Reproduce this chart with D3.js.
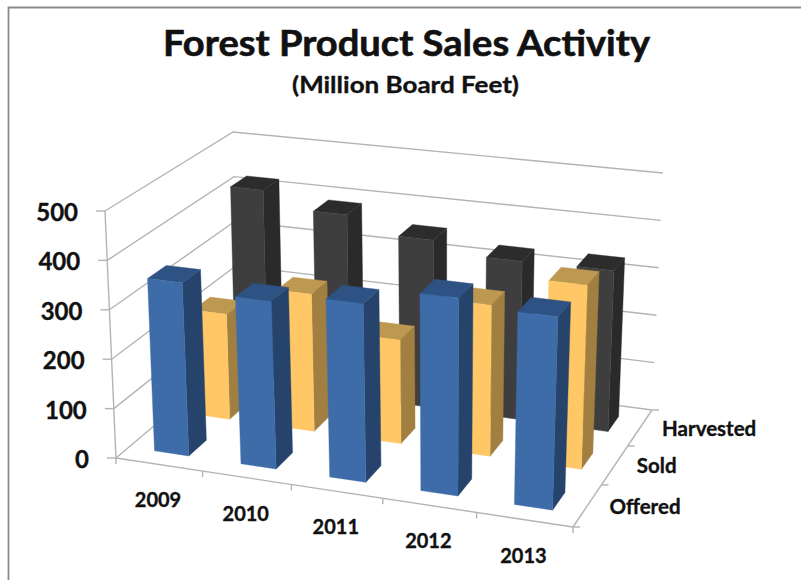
<!DOCTYPE html>
<html>
<head>
<meta charset="utf-8">
<script src="https://cdnjs.cloudflare.com/ajax/libs/d3/7.8.5/d3.min.js"></script>
<style>
html,body{margin:0;padding:0;background:#fff}
svg{display:block}
text{font-family:Lato,"Open Sans",sans-serif;font-weight:700;fill:#111;stroke:#111;stroke-width:0.35px}
</style>
</head>
<body>
<svg id="chart" width="801" height="580"></svg>
<script>
// Forest product sales by year, million board feet
const years = ["2009", "2010", "2011", "2012", "2013"];
const rows = ["Offered", "Sold", "Harvested"];
const offered = [351, 336, 354, 388, 375];
const sold = [220, 284, 212, 306, 369];
const harvested = [423, 389, 355, 331, 333];
const valueTicks = [0, 100, 200, 300, 400, 500];

const seriesByRow = {Offered: offered, Sold: sold, Harvested: harvested};
const faceColors = {
  Offered: {front: "#3d6ca8", side: "#26436c", top: "#2d5283"},
  Sold: {front: "#ffc766", side: "#a07f40", top: "#bd9850"},
  Harvested: {front: "#3e3e3e", side: "#2a2a2a", top: "#2c2c2c"}
};

const svg = d3.select("#chart");

// Unit-space scales: x along the years, d into the chart, z up the value axis
const xBand = d3.scaleBand().domain(years).range([0, 1]).paddingInner(0.6).paddingOuter(0.3);
const dBand = d3.scaleBand().domain(rows).range([0, 1]).paddingInner(0.58).paddingOuter(0.29);
const zScale = d3.scaleLinear().domain([0, 500]).range([0, 1]);

// Screen corners of the plot box: floor and ceiling, front-left going round
const floorQuad = [[116, 458], [573, 527], [652, 410], [238, 355]];
const ceilQuad = [[105, 211], [582, 266], [663, 173], [233, 132]];

// Square-to-quad homography
function homography(q) {
  const [[x0, y0], [x1, y1], [x2, y2], [x3, y3]] = q;
  const dx1 = x1 - x2, dx2 = x3 - x2, sx = x0 - x1 + x2 - x3;
  const dy1 = y1 - y2, dy2 = y3 - y2, sy = y0 - y1 + y2 - y3;
  const den = dx1 * dy2 - dx2 * dy1;
  const g = (sx * dy2 - dx2 * sy) / den;
  const h = (dx1 * sy - sx * dy1) / den;
  const a = x1 - x0 + g * x1, b = x3 - x0 + h * x3;
  const d = y1 - y0 + g * y1, e = y3 - y0 + h * y3;
  return (u, v) => {
    const w = g * u + h * v + 1;
    return [(a * u + b * v + x0) / w, (d * u + e * v + y0) / w];
  };
}
const onFloor = homography(floorQuad);
const onCeil = homography(ceilQuad);

// Project unit-space (x, d, z) to the screen
function project(x, d, z) {
  const f = onFloor(x, d), c = onCeil(x, d);
  return [f[0] + (c[0] - f[0]) * z, f[1] + (c[1] - f[1]) * z];
}

const line = d3.line();
const gridColor = "#b4b4b4";
const grid = svg.append("g").attr("fill", "none").attr("stroke", gridColor).attr("stroke-width", 1.4);
const seg = (a, b) => grid.append("path").attr("d", line([a, b]));

// Frame round the chart area
svg.append("path")
  .attr("d", "M8.5,580V7.5H801")
  .attr("fill", "none").attr("stroke", "#8a8a8a").attr("stroke-width", 1.8);

// Walls: a value gridline along the left and the back
valueTicks.forEach(v => {
  const z = zScale(v);
  const a = project(0, 0, z), b = project(0, 1, z), c = project(1, 1, z);
  grid.append("path").attr("d", line([a, b, c]));
  seg([a[0] - 9, a[1]], a);
});

// Value axis, front floor edge and right floor edge
seg(project(0, 0, 0), project(0, 0, 1));
seg(project(0, 0, 0), project(1, 0, 0));
seg(project(1, 0, 0), project(1, 1, 0));

// Year ticks and labels along the front edge
d3.range(years.length + 1).forEach(i => {
  const p = project(i / years.length, 0, 0);
  seg(p, [p[0], p[1] + 6]);
});
years.forEach(y => {
  const p = project(xBand(y) + xBand.bandwidth() / 2, 0, 0);
  svg.append("text").attr("x", p[0] - 1).attr("y", p[1] + 43)
    .attr("text-anchor", "middle").attr("font-size", 20).text(y);
});

// Row ticks and labels along the right edge
d3.range(rows.length + 1).forEach(i => {
  const p = project(1, i / rows.length, 0);
  seg(p, [p[0] + 7, p[1]]);
});
rows.forEach(r => {
  const p = project(1, dBand(r) + dBand.bandwidth() / 2, 0);
  svg.append("text").attr("x", p[0] + 22).attr("y", p[1] + 8)
    .attr("font-size", 20.5).text(r);
});

// Value labels
valueTicks.forEach(v => {
  const p = project(0, 0, zScale(v));
  svg.append("text").attr("x", p[0] - 27).attr("y", p[1] + 10)
    .attr("text-anchor", "end").attr("font-size", 24).text(v);
});

// Bars, painted from the back row forward
const poly = (pts, fill) => svg.append("path")
  .attr("d", line(pts) + "Z").attr("fill", fill).attr("stroke", fill).attr("stroke-width", 0.4);

rows.slice().reverse().forEach(r => {
  const d0 = dBand(r), d1 = d0 + dBand.bandwidth();
  const c = faceColors[r];
  years.forEach((y, i) => {
    const x0 = xBand(y), x1 = x0 + xBand.bandwidth();
    const z = zScale(seriesByRow[r][i]);
    poly([project(x1, d0, 0), project(x1, d1, 0), project(x1, d1, z), project(x1, d0, z)], c.side);
    poly([project(x0, d0, z), project(x1, d0, z), project(x1, d1, z), project(x0, d1, z)], c.top);
    poly([project(x0, d0, 0), project(x1, d0, 0), project(x1, d0, z), project(x0, d0, z)], c.front);
  });
});

// Titles
svg.append("text").attr("x", 406.5).attr("y", 56).attr("text-anchor", "middle")
  .attr("font-size", 36).attr("textLength", 487).attr("lengthAdjust", "spacingAndGlyphs")
  .style("stroke-width", "0.6px").text("Forest Product Sales Activity");
svg.append("text").attr("x", 405.5).attr("y", 93).attr("text-anchor", "middle")
  .attr("font-size", 23).attr("textLength", 227).attr("lengthAdjust", "spacingAndGlyphs")
  .text("(Million Board Feet)");
</script>
</body>
</html>
